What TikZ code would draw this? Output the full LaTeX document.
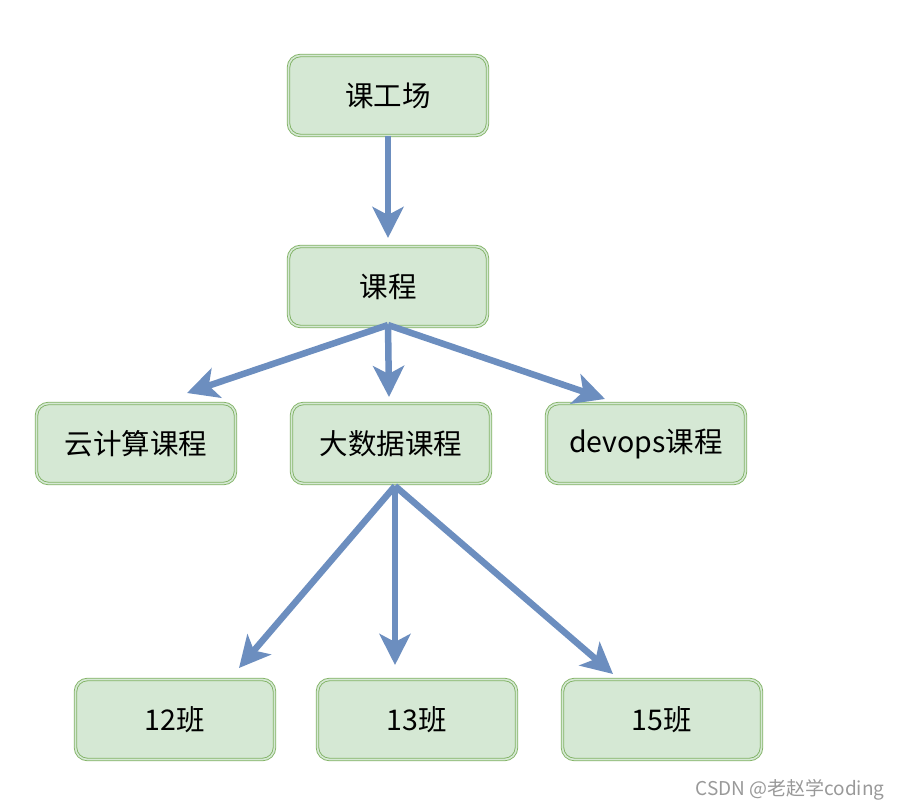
\documentclass[tikz,border=0pt]{standalone}
\usepackage{fontspec}
\setmainfont{Liberation Sans}
\newfontfamily\cjk{Noto Sans CJK SC}
\usetikzlibrary{arrows.meta}
\definecolor{boxfill}{HTML}{D5E8D4}
\definecolor{boxline}{HTML}{82B366}
\definecolor{arr}{HTML}{6C8EBF}
\tikzset{
  box/.style={draw=boxline, double=boxfill, double distance=1.6pt, line width=0.9pt,
    fill=boxfill, rounded corners=12pt, minimum width=199pt, minimum height=80pt,
    inner sep=0pt, font=\fontsize{28.5}{32}\selectfont\cjk},
  conn/.style={draw=arr, line width=6.5pt,
    -{Stealth[length=31pt, width=31pt, inset=8pt]}},
}
\begin{document}
\begin{tikzpicture}[x=1pt,y=-1pt]
\useasboundingbox (0,0) rectangle (902,810);
\node[box] (root) at (388,95.5) {课工场};
\node[box] (kc) at (388,286.5) {课程};
\node[box] (yun) at (136,443.5) {云计算课程};
\node[box] (big) at (391,443.5) {大数据课程};
\node[box] (dev) at (646,443.5) {devops课程};
\node[box] (c12) at (175,719.5) {12班};
\node[box] (c13) at (417,719.5) {13班};
\node[box] (c15) at (662,719.5) {15班};
\coordinate (kcb) at (388,325);
\coordinate (bigb) at (395,486);
\coordinate (t1) at (388,238);
\coordinate (t2) at (187,393);
\coordinate (t3) at (389,397);
\coordinate (t4) at (605,399);
\coordinate (t5) at (239,668);
\coordinate (t6) at (395,665);
\coordinate (t7) at (613,674);
\draw[conn] (root.south) -- (t1);
\draw[conn] (kcb) -- (t2);
\draw[conn] (kcb) -- (t3);
\draw[conn] (kcb) -- (t4);
\draw[conn] (bigb) -- (t5);
\draw[conn] (bigb) -- (t6);
\draw[conn] (bigb) -- (t7);
\node[anchor=east, text=gray!80, font=\fontsize{19}{22}\selectfont\cjk] (wm) at (888,790) {CSDN @老赵学coding};
\end{tikzpicture}
\end{document}
